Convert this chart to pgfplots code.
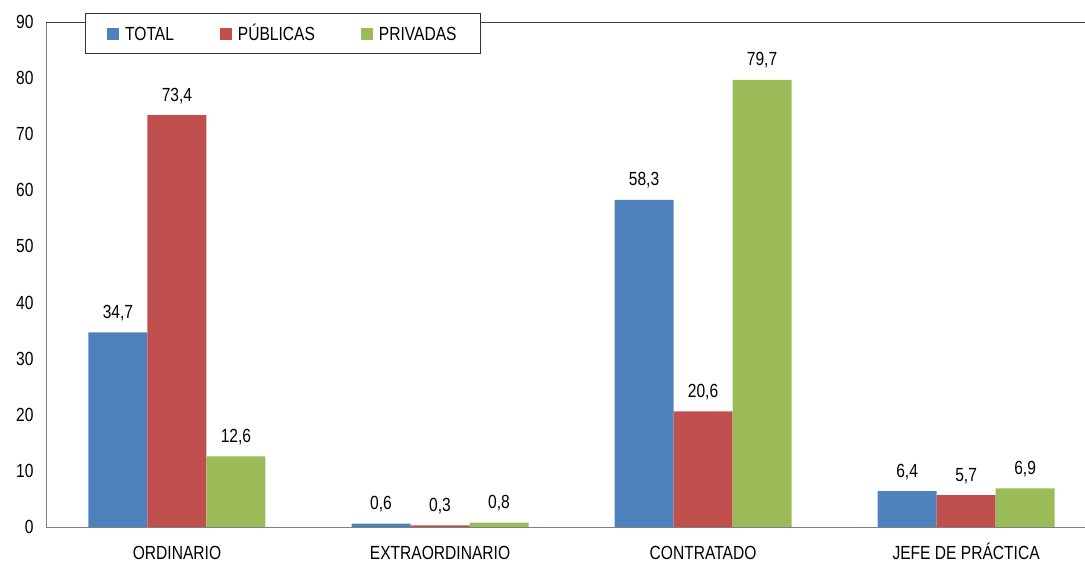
\documentclass[border=0pt]{standalone}
\usepackage{fontspec}
\setmainfont{Liberation Sans}[FakeStretch=0.82]
\usepackage{pgfplots}
\pgfplotsset{compat=1.18}
\usetikzlibrary{calc}
\definecolor{cT}{HTML}{4F81BD}
\definecolor{cP}{HTML}{C0504D}
\definecolor{cV}{HTML}{9BBB59}
\begin{document}
\begin{tikzpicture}
\begin{axis}[name=ax, scale only axis, width=1039bp, height=505bp,
  ybar=0pt, bar width=59bp,
  xmin=-0.498, xmax=3.452, ymin=0, ymax=90,
  xtick={0,1,2,3},
  xticklabels={ORDINARIO,EXTRAORDINARIO,CONTRATADO,JEFE DE PRÁCTICA},
  ytick={0,10,...,90},
  axis x line*=bottom, axis y line*=left,
  axis line style={draw=black!50, line width=0.9bp},
  major tick length=0pt,
  font=\fontsize{19bp}{22bp}\selectfont,
  /pgf/number format/assume math mode=true,
  /pgf/number format/use comma,
  yticklabel style={xshift=-9bp},
  xticklabel style={anchor=base, yshift=-32.5bp},
  nodes near coords={\pgfmathprintnumber[fixed,fixed zerofill,precision=1,use comma]{\pgfplotspointmeta}},
  nodes near coords style={anchor=south, yshift=8bp, black},
  legend columns=3,
  legend style={at={(0.228,0.978)}, anchor=center, draw=black!80, fill=white,
    line width=0.9bp, font=\fontsize{19bp}{22bp}\selectfont,
    inner xsep=22bp, inner ysep=9bp,
    /tikz/every odd column/.append style={column sep=4bp},
    /tikz/every even column/.append style={column sep=44bp}},
  legend image code/.code={\fill[#1,draw=none] (0bp,-7bp) rectangle (12bp,5bp);},
]
\addplot[fill=cT, draw=none] coordinates {(0,34.7) (1,0.6) (2,58.3) (3,6.4)};
\addplot[fill=cP, draw=none] coordinates {(0,73.4) (1,0.3) (2,20.6) (3,5.7)};
\addplot[fill=cV, draw=none] coordinates {(0,12.6) (1,0.8) (2,79.7) (3,6.9)};
\legend{TOTAL\vphantom{Ú},PÚBLICAS,PRIVADAS\vphantom{Ú}}
\draw[black!75, line width=0.9bp] (rel axis cs:0,1) -- (rel axis cs:1,1);
\end{axis}
\pgfresetboundingbox
\path ($(ax.south west)+(-46bp,-36bp)$) rectangle ($(ax.north east)+(0bp,22bp)$);
\end{tikzpicture}
\end{document}
